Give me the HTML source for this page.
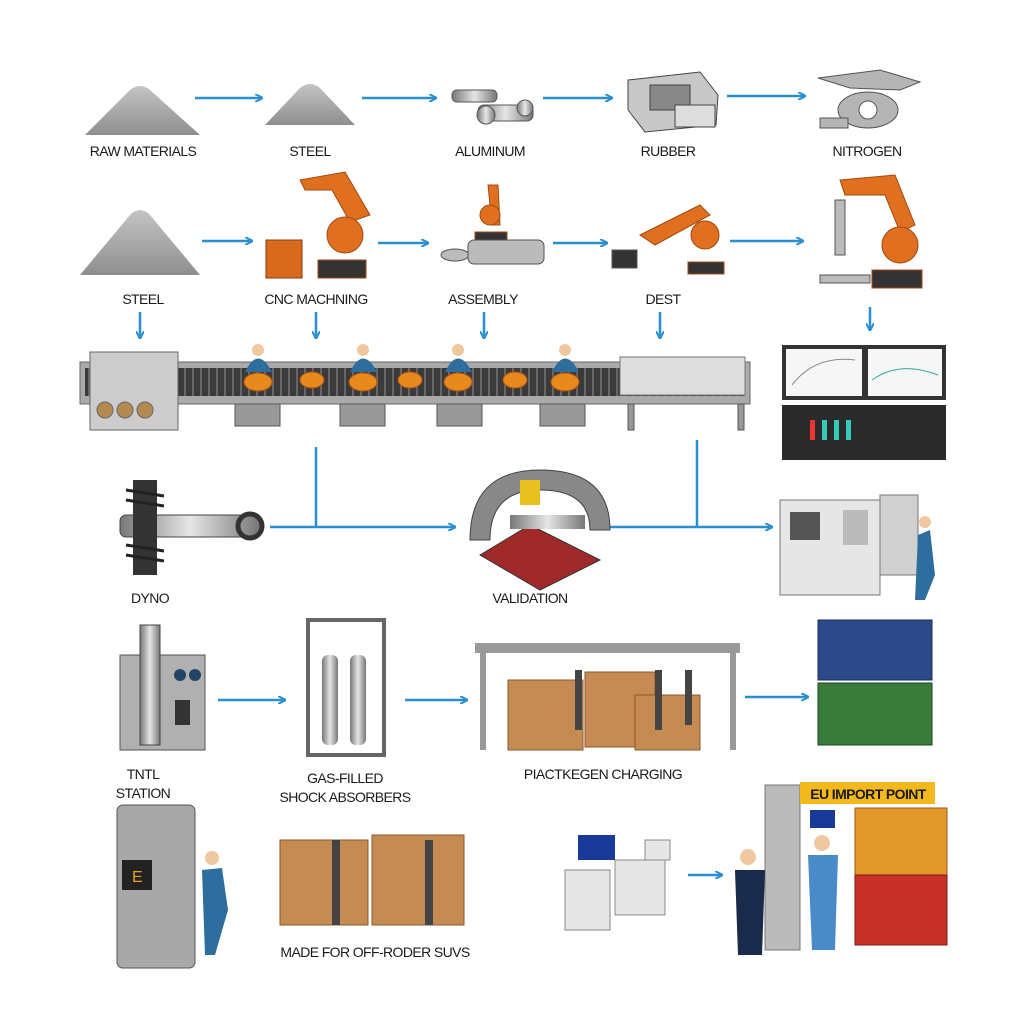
<!DOCTYPE html>
<html><head><meta charset="utf-8"><style>
html,body{margin:0;padding:0;background:#fff;}
svg{display:block}
text{font-family:"Liberation Sans",sans-serif;font-size:14px;fill:#1a1a1a;text-anchor:middle;letter-spacing:-0.6px;}
</style></head><body>
<svg width="1024" height="1024" viewBox="0 0 1024 1024" xmlns="http://www.w3.org/2000/svg">
<defs>
<marker id="ah" markerWidth="8" markerHeight="8" refX="7" refY="4" orient="auto" markerUnits="userSpaceOnUse"><path d="M0,0 L8,4 L0,8" fill="none" stroke="#2a8fd0" stroke-width="2"/></marker>
<linearGradient id="pile" x1="0" y1="0" x2="0" y2="1"><stop offset="0" stop-color="#c4c4c4"/><stop offset="1" stop-color="#8e8e8e"/></linearGradient>
<linearGradient id="metal" x1="0" y1="0" x2="1" y2="0"><stop offset="0" stop-color="#777"/><stop offset=".5" stop-color="#e6e6e6"/><stop offset="1" stop-color="#777"/></linearGradient>
<pattern id="belt" width="8" height="30" patternUnits="userSpaceOnUse"><rect width="8" height="30" fill="#3a3a3a"/><rect width="2" height="30" fill="#666"/></pattern>
</defs>
<g stroke="#2a8fd0" stroke-width="2.5" fill="none" marker-end="url(#ah)">
<line x1="195" y1="98" x2="262" y2="98"/><line x1="362" y1="98" x2="436" y2="98"/><line x1="543" y1="98" x2="612" y2="98"/><line x1="727" y1="96" x2="805" y2="96"/>
<line x1="202" y1="241" x2="252" y2="241"/><line x1="378" y1="243" x2="428" y2="243"/><line x1="553" y1="243" x2="607" y2="243"/><line x1="730" y1="241" x2="803" y2="241"/>
<line x1="140" y1="312" x2="140" y2="338"/><line x1="316" y1="312" x2="316" y2="338"/><line x1="484" y1="312" x2="484" y2="338"/><line x1="660" y1="312" x2="660" y2="338"/><line x1="870" y1="307" x2="870" y2="330"/>
<line x1="270" y1="527" x2="455" y2="527"/><line x1="610" y1="527" x2="772" y2="527"/>
<line x1="218" y1="700" x2="285" y2="700"/><line x1="405" y1="700" x2="467" y2="700"/><line x1="745" y1="697" x2="808" y2="697"/><line x1="688" y1="875" x2="722" y2="875"/>
</g>
<g stroke="#2a8fd0" stroke-width="2.5"><line x1="316" y1="447" x2="316" y2="527"/><line x1="697" y1="440" x2="697" y2="527"/></g>
<!-- piles -->
<path d="M85,135 L130,90 Q140,82 150,90 L200,135 Z" fill="url(#pile)"/>
<path d="M265,125 L300,88 Q310,80 320,88 L355,125 Z" fill="url(#pile)"/>
<path d="M80,275 L130,215 Q140,205 150,215 L200,275 Z" fill="url(#pile)"/>
<!-- row1 items -->
<g fill="url(#metal)" stroke="#555"><rect x="452" y="90" width="45" height="12" rx="5"/><rect x="478" y="105" width="55" height="16" rx="6"/><circle cx="486" cy="115" r="9"/><circle cx="525" cy="108" r="8"/></g>
<g stroke="#444" fill="#c8c8c8"><path d="M628,80 L700,72 L718,95 L716,125 L645,132 L628,110Z"/><rect x="650" y="85" width="40" height="25" fill="#888"/><rect x="675" y="105" width="40" height="22" fill="#ddd"/></g>
<g stroke="#555" fill="#b5b5b5"><path d="M818,78 L880,70 L920,82 L900,90 L850,88Z"/><ellipse cx="868" cy="110" rx="30" ry="18"/><circle cx="868" cy="110" r="9" fill="#fff"/><rect x="820" y="118" width="28" height="10"/></g>
<!-- robots -->
<g fill="#e07020" stroke="#a04a10">
<path d="M300,180 L345,172 L370,215 L350,222 L332,190 L305,190Z"/><circle cx="345" cy="235" r="18"/><rect x="318" y="260" width="48" height="18" fill="#333"/>
<path d="M488,185 L492,225 L500,225 L498,185Z"/><circle cx="490" cy="215" r="10"/><rect x="475" y="232" width="32" height="10" fill="#333"/>
<path d="M640,235 L700,205 L710,215 L655,245Z"/><circle cx="705" cy="235" r="14"/><rect x="688" y="262" width="36" height="12" fill="#333"/>
<path d="M840,180 L895,175 L915,225 L900,232 L885,195 L845,195Z"/><circle cx="900" cy="245" r="18"/><rect x="872" y="270" width="50" height="18" fill="#333"/>
</g>
<rect x="266" y="240" width="36" height="38" fill="#d86a1c" stroke="#8a3a0c"/>
<g fill="#bbb" stroke="#555"><ellipse cx="455" cy="255" rx="14" ry="6"/><rect x="468" y="240" width="76" height="24" rx="6"/><rect x="612" y="250" width="25" height="18" fill="#333"/><rect x="835" y="200" width="10" height="55"/><rect x="820" y="275" width="50" height="8"/></g>
<!-- labels -->
<text x="143" y="156">RAW MATERIALS</text><text x="310" y="156">STEEL</text><text x="490" y="156">ALUMINUM</text><text x="668" y="156">RUBBER</text><text x="867" y="156">NITROGEN</text>
<text x="143" y="304">STEEL</text><text x="316" y="304">CNC MACHNING</text><text x="483" y="304">ASSEMBLY</text><text x="663" y="304">DEST</text>
<!-- conveyor -->
<rect x="80" y="362" width="670" height="42" fill="#aaa" stroke="#666"/>
<rect x="85" y="368" width="660" height="28" fill="url(#belt)"/>
<g fill="#999" stroke="#555"><rect x="235" y="404" width="45" height="22"/><rect x="340" y="404" width="45" height="22"/><rect x="437" y="404" width="45" height="22"/><rect x="540" y="404" width="45" height="22"/><rect x="628" y="404" width="6" height="26"/><rect x="738" y="404" width="6" height="26"/></g>
<g fill="#ccc" stroke="#666"><rect x="90" y="352" width="88" height="78"/><circle cx="105" cy="410" r="8" fill="#b48a50"/><circle cx="125" cy="410" r="8" fill="#b48a50"/><circle cx="145" cy="410" r="8" fill="#b48a50"/></g>
<rect x="620" y="357" width="125" height="38" fill="#ddd" stroke="#777"/>
<g fill="#e8891e" stroke="#b05010"><ellipse cx="258" cy="382" rx="14" ry="9"/><ellipse cx="312" cy="380" rx="12" ry="8"/><ellipse cx="363" cy="382" rx="14" ry="9"/><ellipse cx="410" cy="380" rx="12" ry="8"/><ellipse cx="458" cy="382" rx="14" ry="9"/><ellipse cx="515" cy="380" rx="12" ry="8"/><ellipse cx="565" cy="382" rx="14" ry="9"/></g>
<g fill="#2e6e9e"><path d="M245,372 Q258,345 272,372Z"/><path d="M350,372 Q363,345 377,372Z"/><path d="M445,372 Q458,345 472,372Z"/><path d="M552,372 Q565,345 579,372Z"/></g>
<g fill="#f0c8a0"><circle cx="258" cy="350" r="6"/><circle cx="363" cy="350" r="6"/><circle cx="458" cy="350" r="6"/><circle cx="565" cy="350" r="6"/></g>
<!-- dashboard -->
<rect x="782" y="345" width="164" height="55" fill="#333"/><rect x="786" y="349" width="76" height="47" fill="#f6f6f6"/><rect x="868" y="349" width="74" height="47" fill="#f6f6f6"/>
<path d="M792,385 Q815,355 855,360" stroke="#888" fill="none"/><path d="M872,380 Q900,360 938,375" stroke="#3a9" fill="none"/>
<rect x="782" y="405" width="164" height="55" fill="#2a2a2a"/>
<g fill="#3cb"><rect x="810" y="420" width="5" height="20" fill="#e33"/><rect x="822" y="420" width="5" height="20"/><rect x="834" y="420" width="5" height="20"/><rect x="846" y="420" width="5" height="20"/></g>
<!-- row4 -->
<rect x="120" y="515" width="140" height="22" rx="6" fill="url(#metal)" stroke="#444"/>
<rect x="133" y="480" width="24" height="95" fill="#333"/>
<g stroke="#222" stroke-width="3">
<line x1="126" y1="490" x2="164" y2="496"/><line x1="126" y1="500" x2="164" y2="506"/><line x1="126" y1="545" x2="164" y2="551"/><line x1="126" y1="555" x2="164" y2="561"/></g>
<circle cx="250" cy="526" r="12" fill="none" stroke="#333" stroke-width="5"/>
<path d="M470,540 Q470,470 540,470 Q610,470 610,530 L590,530 Q590,490 540,490 Q490,490 490,540Z" fill="#888" stroke="#444"/>
<path d="M480,555 L530,525 L600,560 L540,590Z" fill="#a02a2a" stroke="#333"/>
<rect x="510" y="515" width="75" height="14" fill="url(#metal)"/><rect x="520" y="480" width="20" height="25" fill="#e8c020"/>
<text x="150" y="603">DYNO</text><text x="530" y="603">VALIDATION</text>
<rect x="780" y="500" width="100" height="95" fill="#e6e6e6" stroke="#777"/><rect x="880" y="495" width="38" height="80" fill="#d0d0d0" stroke="#777"/>
<rect x="790" y="512" width="30" height="28" fill="#555"/><rect x="843" y="510" width="25" height="35" fill="#bbb"/>
<path d="M918,535 L930,530 L935,575 L925,600 L915,600Z" fill="#2e6e9e"/><circle cx="925" cy="522" r="6" fill="#f0c8a0"/>
<!-- row5 -->
<rect x="120" y="655" width="85" height="95" fill="#b0b0b0" stroke="#555"/><rect x="140" y="625" width="20" height="120" fill="url(#metal)" stroke="#444"/>
<circle cx="180" cy="675" r="6" fill="#246"/><circle cx="195" cy="675" r="6" fill="#246"/><rect x="175" y="700" width="15" height="25" fill="#333"/>
<rect x="308" y="620" width="76" height="135" fill="none" stroke="#666" stroke-width="4"/>
<rect x="322" y="655" width="16" height="90" rx="6" fill="url(#metal)"/><rect x="350" y="655" width="16" height="90" rx="6" fill="url(#metal)"/>
<rect x="475" y="643" width="265" height="10" fill="#999"/><rect x="480" y="653" width="6" height="97" fill="#999"/><rect x="730" y="653" width="6" height="97" fill="#999"/>
<g fill="#c68b52" stroke="#8a5a2a"><rect x="508" y="680" width="75" height="70"/><rect x="585" y="672" width="70" height="75"/><rect x="635" y="695" width="65" height="55"/></g>
<g fill="#444"><rect x="575" y="670" width="7" height="60"/><rect x="655" y="670" width="7" height="60"/><rect x="685" y="670" width="7" height="55"/></g>
<rect x="818" y="620" width="114" height="60" fill="#2c4a8a" stroke="#1a2a5a"/><rect x="818" y="683" width="114" height="62" fill="#3a7a3a" stroke="#1a4a1a"/>
<text x="143" y="779">TNTL</text><text x="143" y="798">STATION</text><text x="345" y="783">GAS-FILLED</text><text x="345" y="802">SHOCK ABSORBERS</text><text x="603" y="779">PIACTKEGEN CHARGING</text>
<!-- row6 -->
<rect x="117" y="805" width="78" height="163" rx="6" fill="#a8a8a8" stroke="#555"/><rect x="122" y="860" width="30" height="30" fill="#222"/><text x="137" y="882" style="fill:#e8a020;font-size:16px">E</text>
<path d="M202,870 L222,868 L228,910 L215,955 L205,955Z" fill="#2e6e9e"/><circle cx="212" cy="858" r="7" fill="#f0c8a0"/>
<g fill="#c68b52" stroke="#8a5a2a"><rect x="280" y="840" width="88" height="85"/><rect x="372" y="835" width="92" height="90"/></g>
<g fill="#444"><rect x="332" y="840" width="8" height="85"/><rect x="425" y="840" width="8" height="85"/></g>
<text x="375" y="957">MADE FOR OFF-RODER SUVS</text>
<g fill="#e6e6e6" stroke="#888"><rect x="565" y="870" width="45" height="60"/><rect x="615" y="860" width="50" height="55"/><rect x="645" y="840" width="25" height="20"/></g>
<rect x="578" y="835" width="37" height="25" fill="#1a3a9a"/>
<rect x="765" y="785" width="35" height="165" fill="#bbb" stroke="#777"/>
<rect x="800" y="782" width="135" height="22" fill="#f2b81e"/><text x="868" y="799" style="font-size:14px;font-weight:bold">EU IMPORT POINT</text>
<rect x="810" y="810" width="25" height="18" fill="#1a3a9a"/>
<rect x="855" y="808" width="92" height="77" fill="#e2972a" stroke="#9a5a10"/><rect x="855" y="875" width="92" height="70" fill="#c8302a" stroke="#7a1a1a"/>
<path d="M735,870 L765,870 L762,955 L738,955Z" fill="#1a2a4a"/><circle cx="748" cy="857" r="8" fill="#f0c8a0"/>
<path d="M808,855 L838,855 L835,950 L812,950Z" fill="#4a8ac8"/><circle cx="822" cy="843" r="8" fill="#f0c8a0"/>
</svg>
</body></html>
